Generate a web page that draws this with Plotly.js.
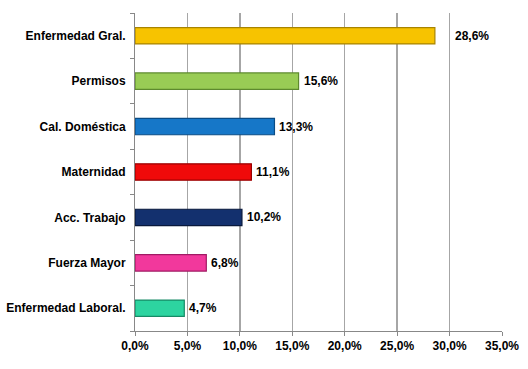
<!DOCTYPE html>
<html>
<head>
<meta charset="utf-8">
<script src="https://cdn.plot.ly/plotly-3.0.1.min.js"></script>
<style>html,body{margin:0;padding:0;background:#fff;}#chart{width:528px;height:369px;}</style>
</head>
<body>
<div id="chart"></div>
<script>
const categories = ["Enfermedad Gral.", "Permisos", "Cal. Doméstica", "Maternidad", "Acc. Trabajo", "Fuerza Mayor", "Enfermedad Laboral."];
const values = [28.6, 15.6, 13.3, 11.1, 10.2, 6.8, 4.7];
const barColors = ["#F7C300", "#99CC55", "#1677C8", "#F00A0A", "#13306E", "#F2389C", "#2DD4A0"];
const edgeColors = ["#A88400", "#5E8A2E", "#0B4C85", "#9A0000", "#08183C", "#A11A64", "#178A66"];
const xTicks = [0, 5, 10, 15, 20, 25, 30, 35];

const font = {family: "Liberation Sans, Arial, sans-serif", size: 12, color: "#000"};
const fmt = v => v.toFixed(1).replace('.', ',') + '%';

const trace = {
  type: 'bar',
  orientation: 'h',
  y: categories,
  x: values,
  marker: {color: barColors, line: {color: edgeColors, width: 1.2}},
  width: 0.36,
  hoverinfo: 'none'
};

const maxV = Math.max(...values);
const annotations = values.map((v, i) => ({
  x: v, y: categories[i], xref: 'x', yref: 'y',
  text: '<b>' + fmt(v) + '</b>', showarrow: false,
  xanchor: 'left', xshift: v === maxV ? 18 : 3,
  font: font
}));

const layout = {
  width: 528, height: 369,
  margin: {l: 135, r: 26, t: 13, b: 38},
  paper_bgcolor: '#fff', plot_bgcolor: '#fff',
  showlegend: false,
  font: font,
  xaxis: {
    range: [0, 35], tickvals: xTicks,
    ticktext: xTicks.map(t => '<b>' + fmt(t) + '</b>'),
    showgrid: true, gridcolor: '#A6A6A6', gridwidth: 1.3,
    showline: true, linecolor: '#888', linewidth: 1,
    ticks: 'outside', ticklen: 4, tickcolor: '#888',
    zeroline: false, fixedrange: true, tickfont: font
  },
  yaxis: {
    type: 'category', autorange: 'reversed',
    tickvals: categories,
    ticktext: categories.map(c => '<b>' + c + '</b>'),
    showline: true, linecolor: '#888', linewidth: 1,
    ticks: 'outside', ticklen: 4, tickcolor: '#888', tickson: 'boundaries',
    showgrid: false, zeroline: false, fixedrange: true, tickfont: font,
    ticklabelstandoff: 6
  },
  annotations: annotations
};

Plotly.newPlot('chart', [trace], layout, {displayModeBar: false, staticPlot: true});
</script>
</body>
</html>
